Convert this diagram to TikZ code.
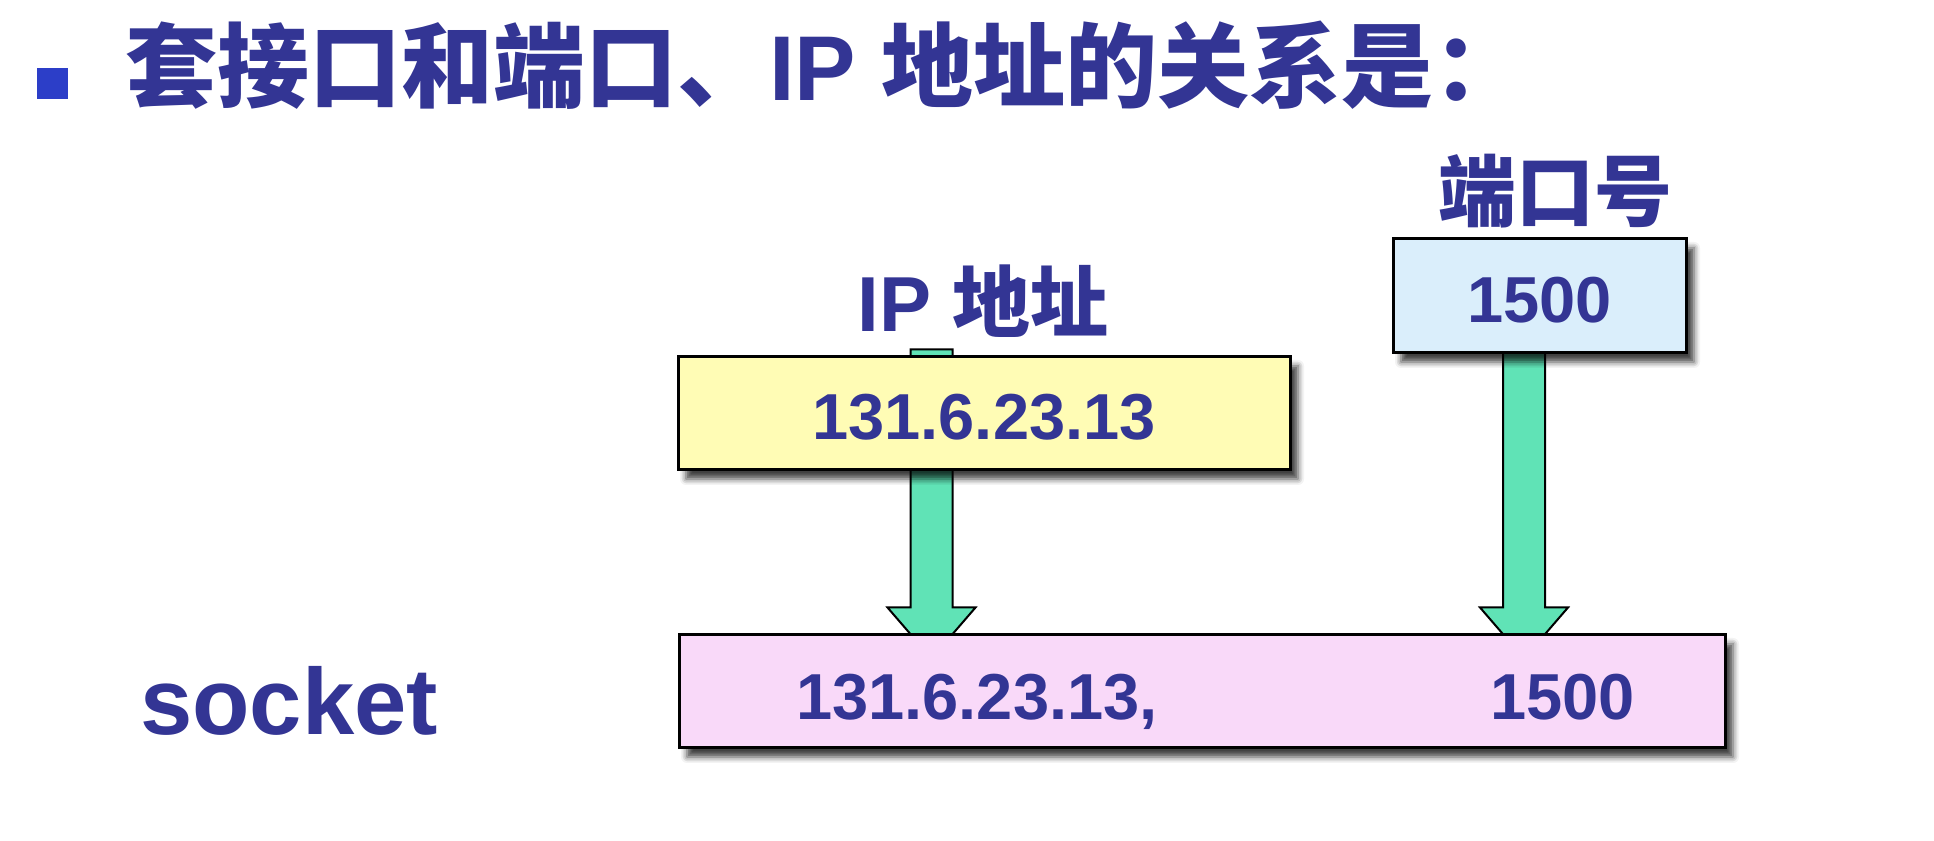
\documentclass[tikz,border=0pt]{standalone}
\usepackage{fontspec}
\setmainfont{Liberation Sans}
\newfontfamily\cjk{Noto Sans CJK SC}
\usetikzlibrary{positioning, calc, shadows.blur, backgrounds}

\definecolor{txtblue}{RGB}{51,53,148}
\definecolor{bulletblue}{RGB}{44,62,200}
\definecolor{ipyellow}{RGB}{255,252,181}
\definecolor{portblue}{RGB}{218,238,251}
\definecolor{sockpink}{RGB}{249,217,249}
\definecolor{arrowgreen}{RGB}{96,227,182}

% fat arrow from top point #1 to tip #2
\newcommand{\fatarrow}[2]{%
  \draw[arrowshape] ($(#1)+(-21,0)$) -- ($(#2)+(-21,51)$) -- ($(#2)+(-44,51)$) -- (#2)
    -- ($(#2)+(44,51)$) -- ($(#2)+(21,51)$) -- ($(#1)+(21,0)$) -- cycle;}

\begin{document}
\begin{tikzpicture}[x=1pt, y=1pt,
  box/.style={draw=black, line width=3pt, minimum height=113pt, inner sep=0pt,
    blur shadow={shadow xshift=8pt, shadow yshift=-9pt, shadow blur radius=6pt, shadow opacity=75}},
  big/.style={font=\fontsize{92}{96}\selectfont\bfseries, text=txtblue, inner sep=0pt},
  mid/.style={font=\fontsize{78}{82}\selectfont\bfseries, text=txtblue, inner sep=0pt},
  num/.style={font=\fontsize{65}{70}\selectfont\bfseries, text=txtblue},
  arrowshape/.style={fill=arrowgreen, draw=black, line width=2pt, line join=miter}]

\useasboundingbox (0,0) rectangle (1934,840);

% Title
\node[fill=bulletblue, minimum size=31pt, inner sep=0pt] (bullet) at (52,756) {};
\node[big, anchor=base west] (title) at (125,739) {{\cjk 套接口和端口、}IP {\cjk 地址的关系是：}};

% IP address and port
\node[box, fill=ipyellow, minimum width=612pt, num, text height=53pt, text depth=0pt] (ipbox) at (984,426.5) {131.6.23.13};
\node[mid, anchor=base] (iplabel) at (983,508) {IP {\cjk 地址}};
\node[box, fill=portblue, minimum width=293pt, minimum height=114pt, num, text height=53pt, text depth=0pt] (portbox) at (1539.5,544) {1500};
\node[mid, anchor=base] (portlabel) at (1555,619) {\cjk 端口号};

% Socket
\node[font=\fontsize{94}{98}\selectfont\bfseries, text=txtblue, inner sep=0pt, anchor=base west] (socket) at (140,105) {socket};
\node[box, fill=sockpink, minimum width=1046pt] (sockbox) at (1202,148.5) {};
\node[num, inner sep=0pt, anchor=base west] (sockip) at (796,120) {131.6.23.13,};
\node[num, inner sep=0pt, anchor=base west] (sockport) at (1490,120) {1500};

% Arrows
\begin{scope}[on background layer]
\coordinate (ipfrom) at ($(ipbox.north)+(-52.5,6)$);
\coordinate (ipto) at ($(ipfrom |- sockbox.north)+(0,-25)$);
\coordinate (portfrom) at ($(portbox.south)+(-15.5,10)$);
\coordinate (portto) at ($(portfrom |- sockbox.north)+(0,-25)$);
\fatarrow{ipfrom}{ipto}
\fatarrow{portfrom}{portto}
\end{scope}
\end{tikzpicture}
\end{document}
